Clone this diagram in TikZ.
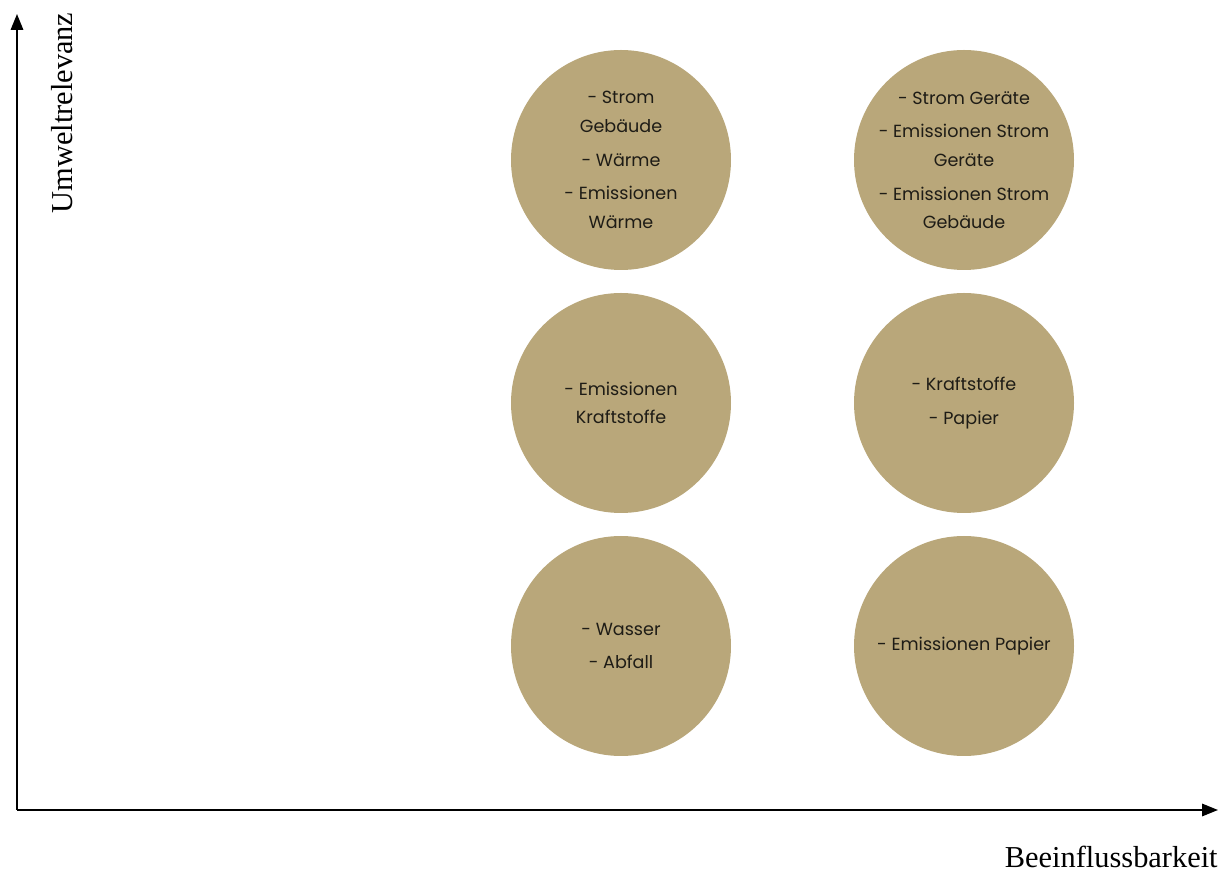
\documentclass[tikz,border=0pt]{standalone}
\usepackage{fontspec}
\setmainfont{Liberation Serif}
\newfontfamily\itemfont{Poppins}
\usetikzlibrary{arrows.meta,positioning}
\definecolor{gold}{RGB}{185,167,122}
\definecolor{ink}{RGB}{30,28,22}

\begin{document}
\begin{tikzpicture}[
    every node/.style={font=\fontsize{17.3}{20}\selectfont},
    axis/.style={line width=1.1pt, -{Triangle[length=9pt,width=7pt]}},
    bubble/.style={circle, fill=gold, draw=none, minimum size=4.4cm, inner sep=0pt,
      align=center, text=ink, font=\itemfont\fontsize{10}{16.2}\selectfont}]
  \useasboundingbox (-0.34,-1.26) rectangle (24.24,16.2);
  % axes
  \coordinate (o) at (0,0);
  \coordinate (xend) at (24.02,0);
  \coordinate (yend) at (0,15.92);
  \draw[axis] (o) -- (xend);
  \draw[axis] (o) -- (yend);
  \node[rotate=90] (ylab) at (0.9,13.94) {Umweltrelevanz};
  \node[anchor=base east, inner sep=0pt] (xlab) at (24.02,-1.15) {Beeinflussbarkeit};
  % left column
  \node[bubble] (sg) at (12.08,13.0) {- Strom\\Gebäude\\[3pt]- Wärme\\[3pt]- Emissionen\\Wärme};
  \node[bubble] (ek) at (12.08,8.14) {- Emissionen\\Kraftstoffe};
  \node[bubble] (wa) at (12.08,3.28) {- Wasser\\[3pt]- Abfall};
  % right column
  \node[bubble] (sge) at (18.94,13.0) {- Strom Geräte\\[3pt]- Emissionen Strom\\Geräte\\[3pt]- Emissionen Strom\\Gebäude};
  \node[bubble] (kp) at (18.94,8.14) {- Kraftstoffe\\[3pt]- Papier};
  \node[bubble] (ep) at (18.94,3.28) {- Emissionen Papier};
\end{tikzpicture}
\end{document}
